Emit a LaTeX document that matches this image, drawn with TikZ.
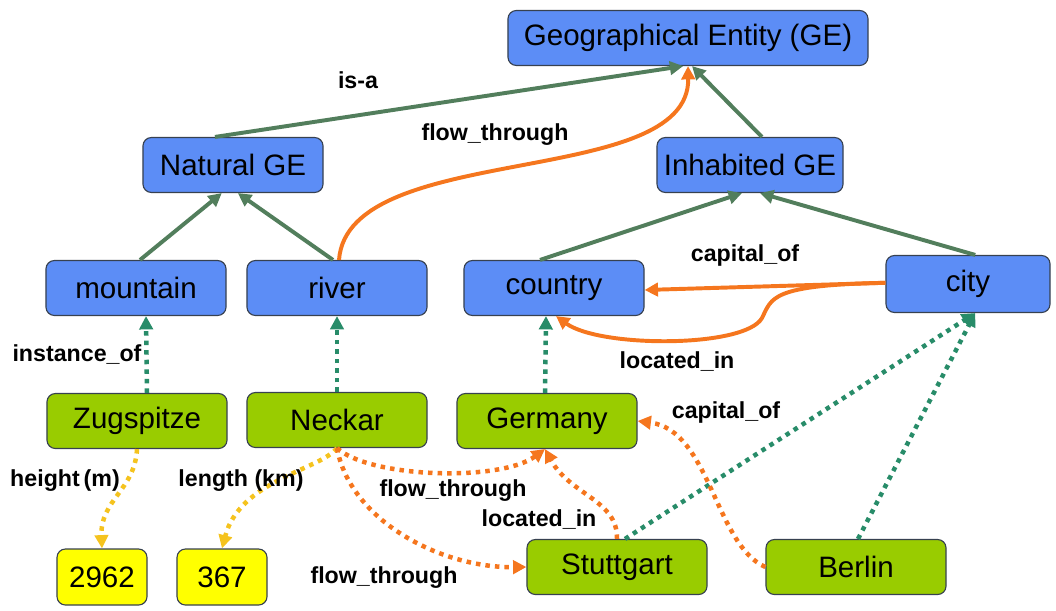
\documentclass[tikz,border=0pt]{standalone}
\usepackage{fontspec}
\setmainfont{Liberation Sans}
\usetikzlibrary{arrows.meta}
\definecolor{geblue}{RGB}{92,141,246}
\definecolor{gegreen}{RGB}{153,204,0}
\definecolor{geyellow}{RGB}{255,255,0}
\definecolor{isagreen}{RGB}{82,126,92}
\definecolor{relorange}{RGB}{245,118,30}
\definecolor{instteal}{RGB}{40,140,105}
\definecolor{valyellow}{RGB}{245,195,30}
\definecolor{boxline}{RGB}{55,65,80}

\begin{document}
\begin{tikzpicture}[x=0.025cm, y=-0.025cm,
  box/.style={draw=boxline, line width=0.8pt, rounded corners=6pt, minimum width=4.5cm,
    minimum height=1.375cm, inner sep=0pt, font=\fontsize{21}{25}\selectfont},
  cls/.style={box, fill=geblue},
  ent/.style={box, fill=gegreen},
  val/.style={box, fill=geyellow, minimum width=2.25cm, minimum height=1.4cm},
  lbl/.style={font=\fontsize{16.5}{19}\selectfont\bfseries, inner sep=1pt},
  tip/.style={-{Triangle[length=9.5pt,width=9.5pt]}},
  isa/.style={draw=isagreen, line width=2.8pt, tip},
  rel/.style={draw=relorange, line width=2.8pt, tip},
  dots/.style={line width=3.2pt, dash pattern=on 3.2pt off 3.6pt, tip},
  inst/.style={draw=instteal, dots},
  attr/.style={draw=valyellow, dots},
  drel/.style={draw=relorange, dots}]
  \useasboundingbox (0,0) rectangle (1056,610);

  % classes
  \node[cls, minimum width=9cm] (ge) at (688,38) {Geographical Entity (GE)};
  \node[cls] (natural) at (233,165) {Natural GE};
  \node[cls, minimum width=4.65cm] (inhabited) at (750,165) {Inhabited GE};
  \node[cls] (mountain) at (136,288) {mountain};
  \node[cls] (river) at (337,288) {river};
  \node[cls] (country) at (554,288) {country};
  \node[cls, minimum width=4.1cm, minimum height=1.425cm] (city) at (968,284) {city};

  % instances
  \node[ent] (zugspitze) at (137,421) {Zugspitze};
  \node[ent] (neckar) at (337,420) {Neckar};
  \node[ent] (germany) at (547,421) {Germany};
  \node[ent] (stuttgart) at (617,567) {Stuttgart};
  \node[ent] (berlin) at (856,567) {Berlin};

  % values
  \node[val] (v2962) at (102,577) {2962};
  \node[val] (v367) at (222,577) {367};

  % is-a
  \draw[isa] ([xshift=-0.45cm]natural.north) -- ([xshift=-0.12cm]ge.south);
  \draw[isa] ([xshift=0.3cm]inhabited.north) -- ([xshift=0.1cm]ge.south);
  \draw[isa] ([xshift=0.1cm]mountain.north) -- ([xshift=-0.28cm]natural.south);
  \draw[isa] ([xshift=-0.1cm]river.north) -- ([xshift=0.12cm]natural.south);
  \draw[isa] ([xshift=-0.35cm]country.north) -- ([xshift=-0.2cm]inhabited.south);
  \draw[isa] ([xshift=0.18cm]city.north) -- ([xshift=0.25cm]inhabited.south);

  % relations between classes
  \draw[rel] ([xshift=0.05cm]river.north) .. controls (348,140) and (690,190) .. (ge.south);
  \draw[rel] ([yshift=0.03cm]city.west) -- ([yshift=-0.05cm]country.east);
  \draw[rel] ([yshift=0.03cm]city.west) .. controls (770,285) and (772,298) .. (762,318)
    .. controls (745,348) and (600,348) .. ([xshift=0.05cm]country.south);

  % instance_of
  \draw[inst] ([xshift=0.25cm]zugspitze.north) -- ([xshift=0.25cm]mountain.south);
  \draw[inst] (neckar.north) -- (river.south);
  \draw[inst] ([xshift=-0.05cm]germany.north) -- ([xshift=-0.2cm]country.south);
  \draw[inst] ([xshift=0.2cm]stuttgart.north) -- ([xshift=0.18cm]city.south);
  \draw[inst] ([xshift=0.05cm]berlin.north) -- ([xshift=0.18cm]city.south);

  % attributes
  \draw[attr] (zugspitze.south) .. controls (135,490) and (100,500) .. (v2962.north);
  \draw[attr] (neckar.south) .. controls (320,470) and (240,480) .. (v367.north);

  % relations between instances
  \draw[drel] (neckar.south) .. controls (370,478) and (500,482) .. ([xshift=-0.05cm]germany.south);
  \draw[drel] (neckar.south) .. controls (350,520) and (440,568) .. (stuttgart.west);
  \draw[drel] (stuttgart.north) .. controls (618,500) and (570,495) .. ([xshift=-0.05cm]germany.south);
  \draw[drel] (berlin.west) .. controls (715,545) and (710,430) .. (germany.east);

  % labels
  \node[lbl] (l_isa) at (358,80) {is-a};
  \node[lbl] (l_flow1) at (495,135) {flow\_through};
  \node[lbl] (l_cap1) at (745,255) {capital\_of};
  \node[lbl] (l_loc1) at (677,362) {located\_in};
  \node[lbl] (l_inst) at (77,355) {instance\_of};
  \node[lbl] (l_cap2) at (726,412) {capital\_of};
  \node[lbl] (l_height) at (65,481) {height\,(m)};
  \node[lbl] (l_length) at (241,481) {length (km)};
  \node[lbl] (l_flow2) at (453,491) {flow\_through};
  \node[lbl] (l_loc2) at (539,520) {located\_in};
  \node[lbl] (l_flow3) at (384,578) {flow\_through};
\end{tikzpicture}
\end{document}
